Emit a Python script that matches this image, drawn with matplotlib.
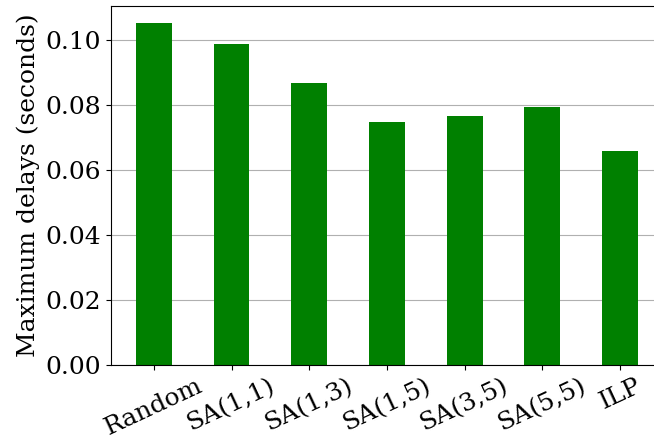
import matplotlib.pyplot as plt

methods = ["Random", "SA(1,1)", "SA(1,3)", "SA(1,5)", "SA(3,5)", "SA(5,5)", "ILP"]
max_delays = [0.1054, 0.0990, 0.0869, 0.0749, 0.0767, 0.0795, 0.0659]

plt.rcParams["font.family"] = "DejaVu Serif"
plt.rcParams["font.size"] = 18

fig = plt.figure(figsize=(6.54, 4.37), dpi=100)
ax = fig.add_axes([0.1697, 0.1648, 0.844, 0.822])

ax.bar(range(len(methods)), max_delays, width=0.46, color="green")
ax.set_xticks(range(len(methods)))
ax.set_xticklabels(methods, rotation=25, ha="center")
ax.set_ylabel("Maximum delays (seconds)")
ax.yaxis.grid(True)
ax.set_axisbelow(True)

fig.savefig("out.png", dpi=100)
